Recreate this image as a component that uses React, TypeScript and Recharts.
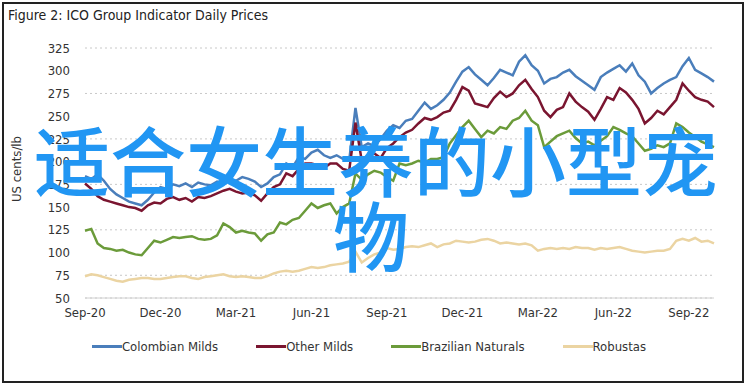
import { CartesianGrid, Legend, Line, LineChart, XAxis, YAxis } from 'recharts'

// weekly samples (quarter-month steps) from Sep-20 to end Sep-22
const TICK_LABELS = ['Sep-20', 'Dec-20', 'Mar-21', 'Jun-21', 'Sep-21', 'Dec-21', 'Mar-22', 'Jun-22', 'Sep-22']
const X_TICKS = [0, 12, 24, 36, 48, 60, 72, 84, 96]
const Y_TICKS = [50, 75, 100, 125, 150, 175, 200, 225, 250, 275, 300, 325]

const colombianMilds = [
  184, 181, 186, 179, 170, 164, 160, 156, 154, 152, 158, 166, 172, 170, 175, 173,
  176, 172, 177, 175, 174, 178, 176, 180, 179, 183, 181, 178, 172, 176, 183, 186,
  198, 194, 205, 203, 210, 213, 207, 204, 207, 203, 201, 259, 216, 220, 217, 225,
  234, 240, 237, 245, 247, 256, 265, 258, 262, 268, 276, 288, 299, 304, 296, 290,
  284, 292, 301, 298, 295, 310, 317, 306, 300, 286, 291, 293, 298, 301, 294, 289,
  284, 279, 293, 298, 302, 306, 299, 308, 295, 288, 275, 281, 286, 290, 293, 305,
  314, 301, 297, 293, 288,
]
const otherMilds = [
  176, 170, 162, 158, 156, 154, 152, 150, 149, 146, 152, 155, 154, 159, 161, 158,
  160, 156, 161, 160, 162, 165, 168, 170, 167, 165, 166, 163, 157, 165, 172, 175,
  187, 184, 192, 198, 198, 196, 193, 198, 198, 192, 190, 243, 201, 206, 209, 204,
  215, 220, 227, 232, 235, 242, 248, 246, 249, 254, 256, 268, 282, 278, 264, 262,
  260, 270, 277, 271, 275, 284, 290, 280, 271, 256, 249, 257, 260, 275, 266, 260,
  255, 246, 258, 271, 268, 281, 276, 268, 258, 242, 248, 256, 252, 260, 268, 286,
  278, 271, 268, 266, 260,
]
const brazilianNaturals = [
  124, 126, 110, 105, 104, 102, 103, 100, 98, 97, 105, 113, 111, 114, 117, 116,
  117, 118, 115, 114, 115, 119, 132, 128, 122, 124, 122, 121, 113, 120, 122, 133,
  131, 136, 138, 146, 154, 149, 152, 154, 143, 150, 154, 187, 180, 186, 190, 188,
  183, 179, 198, 196, 198, 201, 199, 203, 203, 205, 220, 229, 238, 245, 236, 227,
  234, 231, 238, 236, 245, 248, 256, 245, 240, 216, 222, 228, 231, 234, 226, 220,
  222, 218, 223, 228, 238, 235, 231, 228, 220, 212, 214, 218, 216, 220, 242, 238,
  232, 227, 222, 219, 216,
]
const robustas = [
  74, 76, 75, 73, 71, 69, 68, 70, 71, 72, 72, 71, 71, 72, 73, 74,
  74, 72, 71, 73, 74, 75, 76, 74, 73, 74, 73, 72, 72, 74, 77, 79,
  80, 79, 80, 82, 84, 83, 84, 86, 87, 88, 90, 101, 89, 94, 98, 100,
  105, 103, 104, 106, 107, 106, 108, 110, 106, 109, 110, 113, 112, 111, 112, 114,
  115, 113, 110, 111, 110, 109, 110, 108, 102, 104, 105, 104, 105, 104, 106, 105,
  105, 103, 105, 104, 105, 106, 104, 102, 101, 100, 101, 102, 102, 104, 113, 115,
  113, 116, 112, 113, 110,
]

const SERIES = [
  { key: 'colombian', name: 'Colombian Milds', color: '#4a7ebb' },
  { key: 'other', name: 'Other Milds', color: '#7a1530' },
  { key: 'brazilian', name: 'Brazilian Naturals', color: '#6b9b3a' },
  { key: 'robustas', name: 'Robustas', color: '#ebd4a2' },
]

const data = colombianMilds.map((v, i) => ({
  week: i,
  colombian: v,
  other: otherMilds[i],
  brazilian: brazilianNaturals[i],
  robustas: robustas[i],
}))

const FONT = '"Liberation Sans Narrow", "DejaVu Sans Condensed", sans-serif'

function LegendContent() {
  return (
    <div style={{ display: 'flex', justifyContent: 'center', gap: 38, fontFamily: FONT, fontSize: 13, color: '#333', paddingLeft: 24 }}>
      {SERIES.map((s) => (
        <div key={s.key} style={{ display: 'flex', alignItems: 'center' }}>
          <span style={{ display: 'inline-block', width: 30, height: 3, background: s.color }} />
          <span>{s.name}</span>
        </div>
      ))}
    </div>
  )
}

export default function App() {
  return (
    <div style={{ position: 'absolute', left: 0, top: 0, width: 748, height: 387, background: '#fff' }}>
      <div style={{ position: 'absolute', left: 2, top: 2, width: 738, height: 377, border: '2px solid #222' }} />
      <div style={{ position: 'absolute', left: 8, top: 7, fontFamily: FONT, fontSize: 14, color: '#222' }}>
        Figure 2: ICO Group Indicator Daily Prices
      </div>
      <LineChart width={748} height={387} data={data} margin={{ top: 48, right: 34, bottom: 28, left: 0 }}>
        <CartesianGrid vertical={false} stroke="#c8c8c8" strokeDasharray="2 3" />
        <XAxis
          dataKey="week"
          type="number"
          domain={[0, 100]}
          ticks={X_TICKS}
          tickFormatter={(v) => TICK_LABELS[X_TICKS.indexOf(v)]}
          height={41}
          tickSize={0}
          tickMargin={10}
          stroke="#d0d0d0"
          tick={{ fill: '#333', fontSize: 13, fontFamily: FONT }}
        />
        <YAxis
          domain={[50, 325]}
          ticks={Y_TICKS}
          width={85}
          axisLine={false}
          tickSize={0}
          tickMargin={15}
          tick={{ fill: '#333', fontSize: 13, fontFamily: FONT }}
          label={({ viewBox }: any) => {
            const cx = viewBox.x + 16
            const cy = viewBox.y + viewBox.height / 2 - 4
            return (
              <text x={cx} y={cy} transform={`rotate(-90 ${cx} ${cy})`} textAnchor="middle" dominantBaseline="central" fill="#333" fontSize={13} fontFamily={FONT}>
                US cents/lb
              </text>
            )
          }}
        />
        <Legend verticalAlign="bottom" height={20} content={<LegendContent />} />
        {SERIES.map((s) => (
          <Line key={s.key} dataKey={s.key} name={s.name} stroke={s.color} strokeWidth={2.5} dot={false} isAnimationActive={false} />
        ))}
      </LineChart>
      <svg width={748} height={387} style={{ position: 'absolute', left: 0, top: 0, pointerEvents: 'none' }}>
        <text x={376} y={191} textAnchor="middle" fill="#2196f3" fontSize={76} fontFamily='"Noto Sans CJK SC", sans-serif' fontWeight={500}>
          适合女生养的小型宠
        </text>
        <text x={371} y={266} textAnchor="middle" fill="#2196f3" fontSize={76} fontFamily='"Noto Sans CJK SC", sans-serif' fontWeight={500}>
          物
        </text>
      </svg>
    </div>
  )
}
